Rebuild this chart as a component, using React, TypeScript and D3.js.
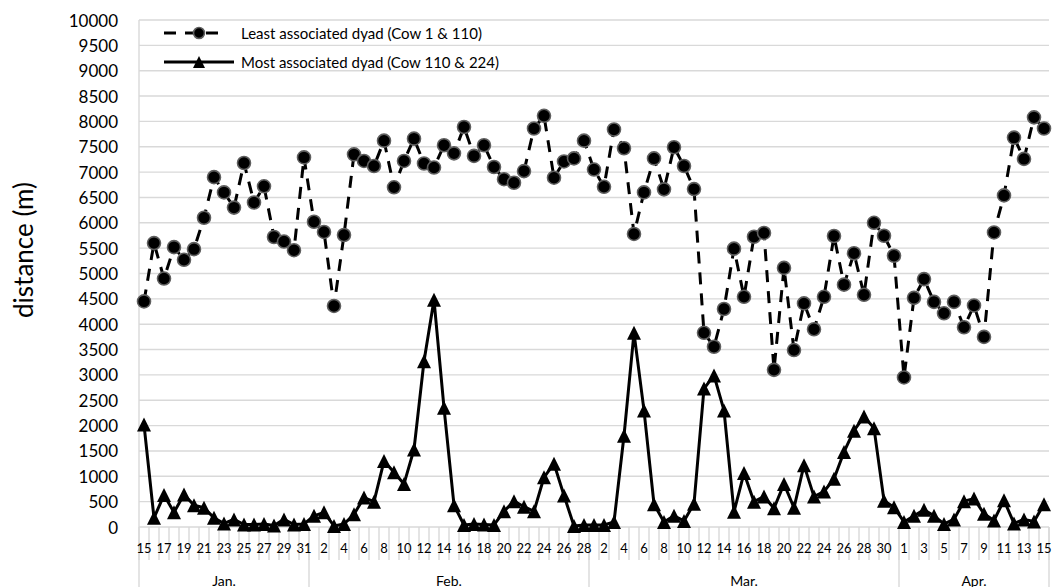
import React from "react";
import * as d3 from "d3";

// ---- data ----
const janDays = [15,16,17,18,19,20,21,22,23,24,25,26,27,28,29,30,31];
const febDays = [1,2,3,4,5,6,7,8,9,10,11,12,13,14,15,16,17,18,19,20,21,22,23,24,25,26,27,28];
const marDays = [1,2,3,4,5,6,7,8,9,10,11,12,13,14,15,16,17,18,19,20,21,22,23,24,25,26,27,28,29,30,31];
const aprDays = [1,2,3,4,5,6,7,8,9,10,11,12,13,14,15];
const monthNames = ["Jan.", "Feb.", "Mar.", "Apr."];
const monthDays = [janDays, febDays, marDays, aprDays];

const leastAssociated = [
  4450,5600,4900,5520,5270,5480,6100,6900,6600,6300,7180,6400,6720,5720,5630,5460,7290,
  6020,5820,4360,5760,7350,7220,7120,7620,6700,7220,7660,7170,7090,7530,7370,7890,7320,7530,7100,6860,6790,7020,7860,8110,6890,7210,7270,7620,
  7050,6710,7840,7470,5780,6600,7270,6660,7490,7120,6665,3830,3555,4300,5490,4540,5725,5800,3100,5110,3490,4410,3900,4540,5740,4780,5400,4580,6000,5745,5350,
  2950,4520,4890,4440,4215,4440,3940,4370,3750,5810,6540,7680,7260,8080,7860,
];
const mostAssociated = [
  2020,180,630,290,640,430,380,180,70,150,50,50,60,30,150,50,60,
  220,290,20,60,250,580,500,1300,1080,850,1530,3270,4480,2350,430,40,60,50,40,310,510,400,310,980,1250,620,20,40,
  40,40,100,1800,3830,2300,450,100,220,120,460,2730,2990,2300,300,1065,500,600,370,850,380,1220,600,700,950,1480,1900,2180,1950,520,390,
  100,220,340,220,60,150,510,560,260,130,530,70,150,110,450,
];
const yTicks = [0,500,1000,1500,2000,2500,3000,3500,4000,4500,5000,5500,6000,6500,7000,7500,8000,8500,9000,9500,10000];
const legendLabels = ["Least associated dyad (Cow 1 & 110)", "Most associated dyad (Cow 110 & 224)"];
const yTitle = "distance (m)";

// ---- layout ----
const W = 1054, H = 587;
const left = 139, right = 1049, top = 20, bottom = 527;
const FONT = "Lato, 'Open Sans', sans-serif";
const GRID = "#d9d9d9";

export default function App() {
  const cats: { key: string; day: number; month: number }[] = [];
  monthDays.forEach((days, m) => days.forEach((d) => cats.push({ key: `${m}-${d}`, day: d, month: m })));

  const x = d3.scaleBand<string>().domain(cats.map((c) => c.key)).range([left, right]).paddingInner(0).paddingOuter(0);
  const y = d3.scaleLinear().domain([0, 10000]).range([bottom, top]);
  const cx = (i: number) => (x(cats[i].key) as number) + x.bandwidth() / 2;

  const lineGen = d3.line<number>().x((_, i) => cx(i)).y((v) => y(v));

  const tri = (px: number, py: number, s = 7) => `M${px},${py - s}L${px + s},${py + s}L${px - s},${py + s}Z`;

  const monthStarts: number[] = [];
  let acc = 0;
  monthDays.forEach((d) => { monthStarts.push(acc); acc += d.length; });
  const boundaryX = (k: number) => (k < cats.length ? (x(cats[k].key) as number) : right);

  return (
    <svg width={W} height={H} style={{ position: "absolute", left: 0, top: 0, background: "#fff" }} fontFamily={FONT}>
      {yTicks.map((t) => (
        <line key={"g" + t} x1={left} x2={right} y1={y(t)} y2={y(t)} stroke={GRID} strokeWidth={1.4} />
      ))}
      <line x1={left} x2={left} y1={top} y2={bottom} stroke={GRID} strokeWidth={1.4} />
      {yTicks.map((t) => (
        <text key={"yt" + t} x={118} y={y(t)} textAnchor="end" dominantBaseline="central" fontSize={17} fill="#000">
          {t}
        </text>
      ))}
      <text transform={`translate(33,${250}) rotate(-90)`} textAnchor="middle" fontSize={26} fill="#000">
        {yTitle}
      </text>
      {d3.range(cats.length + 1).map((k) => (
        <line key={"xt" + k} x1={boundaryX(k)} x2={boundaryX(k)} y1={bottom} y2={560} stroke={GRID} strokeWidth={1.4} />
      ))}
      {[...monthStarts, cats.length].map((k) => (
        <line key={"ms" + k} x1={boundaryX(k)} x2={boundaryX(k)} y1={bottom} y2={H} stroke={GRID} strokeWidth={1.4} />
      ))}
      {cats.map((c, i) =>
        i % 2 === 0 ? (
          <text key={"dl" + i} x={cx(i)} y={548} textAnchor="middle" dominantBaseline="central" fontSize={13} fill="#000">
            {c.day}
          </text>
        ) : null
      )}
      {monthNames.map((m, mi) => {
        const a = boundaryX(monthStarts[mi]);
        const b = boundaryX(monthStarts[mi] + monthDays[mi].length);
        return (
          <text key={"ml" + m} x={(a + b) / 2} y={580} textAnchor="middle" dominantBaseline="central" fontSize={14} fill="#000">
            {m}
          </text>
        );
      })}
      <path d={lineGen(leastAssociated) || ""} fill="none" stroke="#000" strokeWidth={3} strokeDasharray="12,9" />
      {leastAssociated.map((v, i) => (
        <circle key={"c" + i} cx={cx(i)} cy={y(v)} r={6.5} fill="#000" stroke="#5f5f5f" strokeWidth={1.6} />
      ))}
      <path d={lineGen(mostAssociated) || ""} fill="none" stroke="#000" strokeWidth={3} strokeLinejoin="round" />
      {mostAssociated.map((v, i) => (
        <path key={"t" + i} d={tri(cx(i), y(v))} fill="#000" />
      ))}
      <g>
        <line x1={164} x2={226} y1={33} y2={33} stroke="#000" strokeWidth={3} strokeDasharray="12,9" />
        <circle cx={199} cy={33} r={5.5} fill="#000" stroke="#5f5f5f" strokeWidth={1.6} />
        <text x={241} y={33} dominantBaseline="central" fontSize={15} fill="#000">{legendLabels[0]}</text>
        <line x1={164} x2={234} y1={62} y2={62} stroke="#000" strokeWidth={3} />
        <path d={tri(199, 62, 6)} fill="#000" />
        <text x={241} y={62} dominantBaseline="central" fontSize={15} fill="#000">{legendLabels[1]}</text>
      </g>
    </svg>
  );
}
